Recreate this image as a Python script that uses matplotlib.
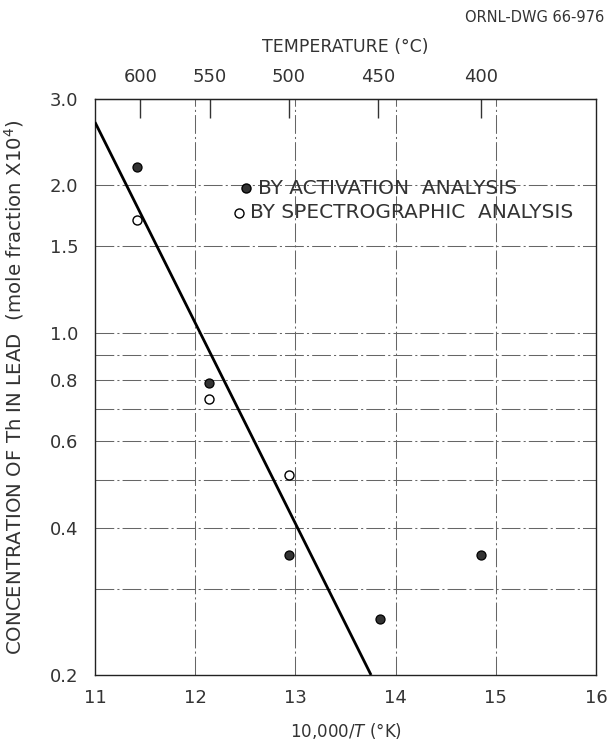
import matplotlib
matplotlib.use("Agg")
import matplotlib.pyplot as plt
import numpy as np

# Solubility of thorium in lead versus reciprocal temperature
act_x = [11.42, 12.14, 12.94, 13.84, 14.85]
act_y = [2.18, 0.79, 0.352, 0.26, 0.352]
spec_x = [11.42, 12.14, 12.94]
spec_y = [1.70, 0.731, 0.512]
fit_x = [11.0, 13.755]
fit_y = [2.69, 0.20]

x_ticks = [11, 12, 13, 14, 15, 16]
x_tick_labels = ["11", "12", "13", "14", "15", "16"]
y_ticks = [0.2, 0.4, 0.6, 0.8, 1.0, 1.5, 2.0, 3.0]
y_tick_labels = ["0.2", "0.4", "0.6", "0.8", "1.0", "1.5", "2.0", "3.0"]
y_grid = [0.3, 0.4, 0.5, 0.6, 0.7, 0.8, 0.9, 1.0, 1.5, 2.0]
x_grid = [12, 13, 14, 15]
temp_ticks = [600, 550, 500, 450, 400]

ink = "#333333"
plt.rcParams["font.family"] = ["DejaVu Sans"]

fig = plt.figure(figsize=(6.07, 7.41), dpi=100)
ax = fig.add_axes([95 / 607, 1 - 675 / 741, (596 - 95) / 607, (675 - 99) / 741])
ax.set_yscale("log")
ax.set_xlim(11, 16)
ax.set_ylim(0.2, 3.0)

grid_style = dict(color="#666666", linewidth=0.75, linestyle=(0, (18, 3, 2, 3)), zorder=1)
for g in y_grid:
    ax.axhline(g, **grid_style)
for g in x_grid:
    ax.axvline(g, **grid_style)

ax.plot(fit_x, fit_y, color="black", linewidth=2.0, solid_capstyle="butt", zorder=3)
ax.plot(act_x, act_y, linestyle="none", marker="o", markersize=6.5,
        markerfacecolor="#333333", markeredgecolor="black", markeredgewidth=0.9, zorder=4)
ax.plot(spec_x, spec_y, linestyle="none", marker="o", markersize=6.5,
        markerfacecolor="white", markeredgecolor="black", markeredgewidth=1.0, zorder=4)

ax.set_xticks(x_ticks)
ax.set_xticklabels(x_tick_labels)
ax.set_yticks(y_ticks)
ax.set_yticklabels(y_tick_labels)
ax.yaxis.set_minor_locator(matplotlib.ticker.NullLocator())
ax.tick_params(axis="both", length=0, labelsize=13, colors=ink, pad=10)
ax.tick_params(axis="y", pad=12)
for s in ax.spines.values():
    s.set_linewidth(1.0)
    s.set_color("#222222")

# Temperature scale along the top edge
sec = ax.secondary_xaxis("top", functions=(lambda x: 10000.0 / np.asarray(x, float) - 273.15,
                                            lambda t: 10000.0 / (np.asarray(t, float) + 273.15)))
sec.set_xticks(temp_ticks)
sec.set_xticklabels([str(t) for t in temp_ticks])
sec.tick_params(direction="in", length=14, width=1.0, labelsize=13, colors=ink, pad=9)
sec.set_xlabel("TEMPERATURE (°C)", fontsize=12.5, color=ink, labelpad=12)

ax.set_xlabel("10,000/$T$ (°K)", fontsize=12, color=ink, labelpad=10)
ax.set_ylabel("CONCENTRATION OF Th IN LEAD  (mole fraction X10$^4$)", fontsize=14.2,
              color=ink, labelpad=17)

# Legend entries
ax.plot([12.507], [1.974], linestyle="none", marker="o", markersize=6.5,
        markerfacecolor="#333333", markeredgecolor="black", zorder=4)
ax.plot([12.437], [1.756], linestyle="none", marker="o", markersize=6.5,
        markerfacecolor="white", markeredgecolor="black", zorder=4)
ax.text(12.627, 1.974, "BY ACTIVATION  ANALYSIS", fontsize=14.5, color=ink, va="center", zorder=5)
ax.text(12.547, 1.756, "BY SPECTROGRAPHIC  ANALYSIS", fontsize=14.5, color=ink, va="center", zorder=5)

fig.text(604 / 607, 1 - 18 / 741, "ORNL-DWG 66-976", fontsize=10.5, color=ink,
         va="center", ha="right")

fig.savefig("out.png", dpi=100, facecolor="white")
